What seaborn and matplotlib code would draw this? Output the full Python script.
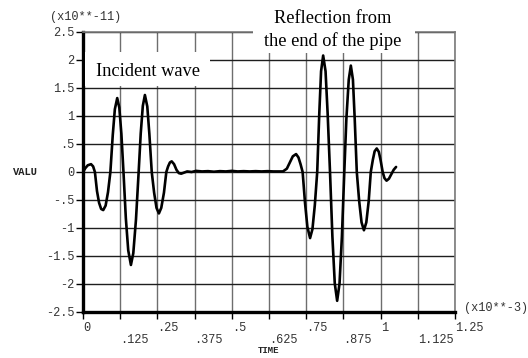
import numpy as np
import pandas as pd
import matplotlib
matplotlib.use("Agg")
import matplotlib.pyplot as plt
import seaborn as sns
from matplotlib.patches import Rectangle

# Pressure-wave record: time (x10**-3 s) and value (x10**-11)
time_ms = [
    0.000, 0.008, 0.016, 0.027, 0.034, 0.040, 0.047, 0.054, 0.061, 0.068,
    0.076, 0.084, 0.092, 0.100, 0.107, 0.115, 0.122, 0.129, 0.136, 0.144,
    0.152, 0.161, 0.169, 0.178, 0.187, 0.194, 0.201, 0.208, 0.216, 0.223,
    0.231, 0.239, 0.247, 0.255, 0.263, 0.272, 0.280, 0.286, 0.292, 0.298,
    0.306, 0.314, 0.322, 0.330, 0.340, 0.350, 0.365, 0.380, 0.400, 0.420,
    0.440, 0.460, 0.480, 0.500, 0.520, 0.540, 0.560, 0.580, 0.600, 0.620,
    0.640, 0.660, 0.672, 0.685, 0.695, 0.705, 0.716, 0.724, 0.731, 0.738,
    0.746, 0.754, 0.763, 0.771, 0.779, 0.787, 0.794, 0.800, 0.807, 0.815,
    0.822, 0.830, 0.838, 0.846, 0.854, 0.862, 0.870, 0.878, 0.885, 0.893,
    0.900, 0.907, 0.913, 0.920, 0.928, 0.936, 0.944, 0.952, 0.960, 0.967,
    0.974, 0.980, 0.987, 0.994, 1.000, 1.007, 1.013, 1.020, 1.028, 1.036,
    1.044, 1.052,
]
valu = [
    0.00, 0.07, 0.12, 0.14, 0.10, 0.00, -0.34, -0.55, -0.66, -0.68,
    -0.60, -0.36, 0.00, 0.66, 1.12, 1.32, 1.15, 0.68, 0.00, -0.83,
    -1.40, -1.66, -1.45, -0.85, 0.00, 0.69, 1.18, 1.375, 1.17, 0.68,
    0.00, -0.37, -0.64, -0.74, -0.64, -0.37, 0.00, 0.10, 0.17, 0.19,
    0.14, 0.04, -0.02, -0.03, -0.01, 0.01, 0.00, 0.02, 0.01, 0.015,
    0.005, 0.015, 0.01, 0.02, 0.01, 0.015, 0.01, 0.015, 0.01, 0.015,
    0.01, 0.01, 0.01, 0.06, 0.17, 0.28, 0.32, 0.26, 0.14, 0.00,
    -0.55, -0.98, -1.18, -1.02, -0.59, 0.00, 1.05, 1.80, 2.08, 1.80,
    1.05, 0.00, -1.15, -1.99, -2.30, -1.99, -1.15, 0.00, 0.95, 1.65,
    1.90, 1.65, 0.95, 0.00, -0.52, -0.90, -1.04, -0.90, -0.52, 0.00,
    0.22, 0.37, 0.42, 0.36, 0.21, 0.00, -0.11, -0.155, -0.12, -0.04,
    0.04, 0.09,
]

x_ticks = [0, 0.125, 0.25, 0.375, 0.5, 0.625, 0.75, 0.875, 1.0, 1.125, 1.25]
x_tick_labels = ["0", ".125", ".25", ".375", ".5", ".625", ".75", ".875",
                 "1", "1.125", "1.25"]
y_ticks = [-2.5, -2, -1.5, -1, -0.5, 0, 0.5, 1, 1.5, 2, 2.5]
y_tick_labels = ["-2.5", "-2", "-1.5", "-1", "-.5", "0", ".5", "1",
                 "1.5", "2", "2.5"]

sns.set_theme(style="white")
plt.rcParams["font.family"] = ["Liberation Mono", "DejaVu Sans Mono"]

W, H = 528, 358
fig = plt.figure(figsize=(W / 100, H / 100), dpi=100)
ax = fig.add_axes([83 / W, 1 - 312 / H, 372 / W, 280 / H])

df = pd.DataFrame({"TIME": time_ms, "VALU": valu})
sns.lineplot(data=df, x="TIME", y="VALU", ax=ax, color="black", lw=1.9,
             sort=False, estimator=None, zorder=4)

ax.set_xlim(0, 1.25)
ax.set_ylim(-2.5, 2.5)

# grid: grey verticals, dark horizontals
ax.set_xticks(x_ticks)
ax.set_yticks(y_ticks)
ax.grid(axis="x", color="#6e6e6e", lw=1.0, zorder=1)
ax.grid(axis="y", color="#1e1e1e", lw=1.0, zorder=1)

# two-row time labels, left aligned on the tick
labels_2row = [lab if i % 2 == 0 else "\n" + lab for i, lab in enumerate(x_tick_labels)]
ax.set_xticklabels(labels_2row, ha="left", fontsize=8.6, linespacing=1.02)
ax.set_yticklabels(y_tick_labels, fontsize=8.6)
ax.tick_params(axis="x", direction="out", length=5, width=1, color="black",
               pad=2, bottom=True, labelcolor="#333")
ax.tick_params(axis="y", direction="out", length=5, width=1, color="black",
               pad=1, left=True, labelcolor="#333")

for side in ("left", "bottom"):
    ax.spines[side].set_color("black")
    ax.spines[side].set_linewidth(2.4)
for side in ("top", "right"):
    ax.spines[side].set_color("#7a7a7a")
    ax.spines[side].set_linewidth(1.2)
    ax.spines[side].set_visible(True)

ax.set_xlabel("")
ax.set_ylabel("")

# axis names and scale factors
fig.text(25 / W, 1 - 172 / H, "VALU", fontsize=7.5, fontweight="bold",
         ha="center", va="center", color="#222")
fig.text(269 / W, 1 - 350.5 / H, "TIME", fontsize=6.5, fontweight="bold",
         ha="center", va="center", color="#222")
fig.text(50 / W, 1 - 17 / H, "(x10**-11)", fontsize=8.6, ha="left",
         va="center", color="#333")
fig.text(464 / W, 1 - 308 / H, "(x10**-3)", fontsize=8.6, ha="left",
         va="center", color="#333")

# white panels behind the annotations
ax.add_patch(Rectangle((0.005, 0.807), 0.336, 0.122, transform=ax.transAxes,
                       facecolor="white", edgecolor="none", zorder=3,
                       clip_on=False))
ax.add_patch(Rectangle((0.457, 0.925), 0.435, 0.11, transform=ax.transAxes,
                       facecolor="white", edgecolor="none", zorder=3,
                       clip_on=False))

serif = ["Liberation Serif", "DejaVu Serif"]
fig.text(148.5 / W, 1 - 72 / H, "Incident wave", family=serif, fontsize=13.2,
         ha="center", va="center", color="black")
fig.text(332.5 / W, 1 - 30 / H, "Reflection from\nthe end of the pipe",
         family=serif, fontsize=13.2, ha="center", va="center",
         linespacing=1.4, color="black")

fig.savefig("out.png", dpi=100)
